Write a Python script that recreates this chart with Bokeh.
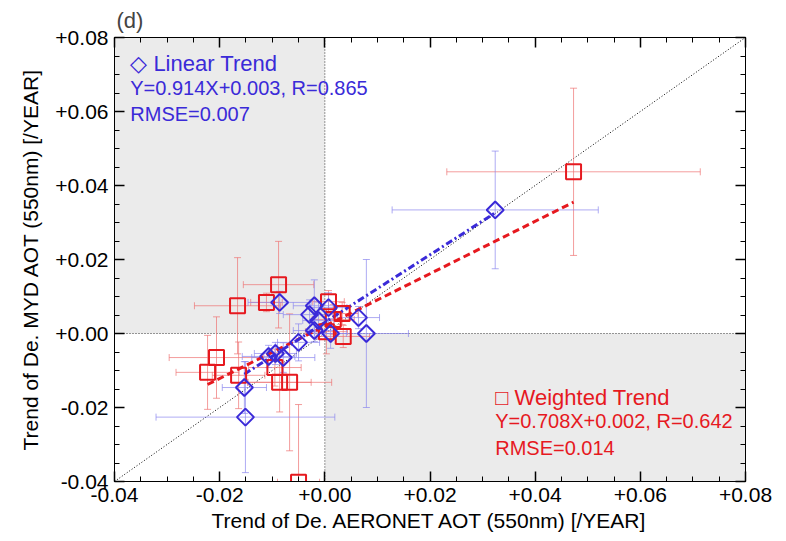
import numpy as np
from bokeh.plotting import figure
from bokeh.models import (ColumnDataSource, Whisker, TeeHead, BoxAnnotation, Span, Slope,
                          LinearAxis, SingleIntervalTicker, CustomJSTickFormatter, Label, Range1d)
from bokeh.embed import file_html
from bokeh.resources import INLINE

# ---- data ----
lin_x    = [0.0324, -0.0086, -0.0020, 0.0007, -0.0029, -0.0012, 0.0064, -0.0020,
            0.0079, 0.0011, -0.0050, -0.0079, -0.0094, -0.0107, -0.0153, -0.0151]
lin_y    = [0.0334, 0.0084, 0.0075, 0.0070, 0.0051, 0.0035, 0.0043, 0.0008,
            0.0000, 0.0000, -0.0024, -0.0065, -0.0054, -0.0062, -0.0146, -0.0226]
lin_xerr = [0.0196, 0.0060, 0.0040, 0.0035, 0.0050, 0.0030, 0.0040, 0.0040,
            0.0080, 0.0030, 0.0040, 0.0060, 0.0040, 0.0050, 0.0042, 0.0170]
lin_yerr = [0.0159, 0.0030, 0.0070, 0.0040, 0.0040, 0.0050, 0.0030, 0.0030,
            0.0200, 0.0040, 0.0050, 0.0040, 0.0030, 0.0030, 0.0070, 0.0150]

wt_x     = [0.0473, -0.0088, -0.0166, -0.0111, 0.0007, 0.0033, 0.0016, 0.0003,
            0.0035, -0.0206, -0.0223, -0.0164, -0.0095, -0.0086, -0.0067, -0.0050]
wt_y     = [0.0437, 0.0132, 0.0075, 0.0084, 0.0086, 0.0054, 0.0038, 0.0005,
            -0.0008, -0.0065, -0.0105, -0.0113, -0.0092, -0.0132, -0.0132, -0.0402]
wt_xerr  = [0.0241, 0.0067, 0.0082, 0.0030, 0.0030, 0.0030, 0.0040, 0.0040,
            0.0050, 0.0090, 0.0060, 0.0050, 0.0050, 0.0060, 0.0080, 0.0040]
wt_yerr  = [0.0226, 0.0117, 0.0130, 0.0025, 0.0030, 0.0030, 0.0040, 0.0060,
            0.0030, 0.0110, 0.0100, 0.0090, 0.0050, 0.0080, 0.0185, 0.0210]

lin_fit = (0.914, 0.003)   # slope, intercept
wt_fit = (0.708, 0.002)

axis_min, axis_max = -0.04, 0.08

BLUE = "#3a2ad8"
RED = "#e6191f"
BLUE_ERR = "#8c88ee"
RED_ERR = "#ee7474"
FONT = "Liberation Sans"

p = figure(width=786, height=541, output_backend="svg", toolbar_location=None,
           x_range=Range1d(axis_min, axis_max), y_range=Range1d(axis_min, axis_max),
           min_border_left=114, min_border_right=41, min_border_top=36, min_border_bottom=60,
           background_fill_color="white", border_fill_color="white")
p.grid.visible = False
p.outline_line_color = "black"
p.outline_line_width = 1

# shaded quadrants
p.add_layout(BoxAnnotation(right=0, bottom=0, fill_color="#ebebeb", fill_alpha=1,
                           line_alpha=0, level="underlay"))
p.add_layout(BoxAnnotation(left=0, top=0, fill_color="#ebebeb", fill_alpha=1,
                           line_alpha=0, level="underlay"))
# zero lines and 1:1 line
p.add_layout(Span(location=0, dimension="height", line_color="#333333", line_width=1,
                  line_dash="1 2", level="underlay"))
p.add_layout(Span(location=0, dimension="width", line_color="#333333", line_width=1,
                  line_dash="1 2", level="underlay"))
p.add_layout(Slope(gradient=1, y_intercept=0, line_color="black", line_width=1,
                   line_dash="1 2", level="underlay"))

def add_errors(xs, ys, xe, ye, color):
    src = ColumnDataSource(dict(
        x=xs, y=ys,
        xl=[a - b for a, b in zip(xs, xe)], xu=[a + b for a, b in zip(xs, xe)],
        yl=[a - b for a, b in zip(ys, ye)], yu=[a + b for a, b in zip(ys, ye)]))
    for dim, base, lo, hi in (("height", "x", "yl", "yu"), ("width", "y", "xl", "xu")):
        w = Whisker(source=src, base=base, lower=lo, upper=hi, dimension=dim,
                    line_color=color, line_width=1, line_alpha=0.7, level="underlay",
                    lower_head=TeeHead(size=7, line_color=color, line_alpha=0.7, line_width=1),
                    upper_head=TeeHead(size=7, line_color=color, line_alpha=0.7, line_width=1))
        p.add_layout(w)
    return src

wsrc = add_errors(wt_x, wt_y, wt_xerr, wt_yerr, RED_ERR)
lsrc = add_errors(lin_x, lin_y, lin_xerr, lin_yerr, BLUE_ERR)

# fit lines spanning each data set
wx = [min(wt_x), max(wt_x)]
p.line(wx, [wt_fit[0] * v + wt_fit[1] for v in wx], line_color=RED, line_width=3,
       line_dash="7 4")
lx = [min(lin_x), max(lin_x)]
p.line(lx, [lin_fit[0] * v + lin_fit[1] for v in lx], line_color=BLUE, line_width=3,
       line_dash="7 3 2 3")

# markers
p.scatter("x", "y", source=wsrc, marker="square", size=15, fill_alpha=0,
          line_color=RED, line_width=2)
p.scatter("x", "y", source=lsrc, marker="square", size=12, angle=np.pi / 4,
          fill_alpha=0, line_color=BLUE, line_width=2)

# axes
fmt = CustomJSTickFormatter(code="""
const v = Math.round(tick * 100) / 100;
return (v >= 0 ? '+' : '-') + Math.abs(v).toFixed(2);
""")
blank = CustomJSTickFormatter(code="return '';")

p.add_layout(LinearAxis(), "above")
p.add_layout(LinearAxis(), "right")

for ax in p.xaxis + p.yaxis:
    ax.ticker = SingleIntervalTicker(interval=0.02, num_minor_ticks=4)
    ax.major_tick_in = 10
    ax.major_tick_out = 0
    ax.minor_tick_in = 5
    ax.minor_tick_out = 0
    ax.axis_line_color = "black"
    ax.major_tick_line_color = "black"
    ax.minor_tick_line_color = "black"
    ax.major_tick_line_width = 1.5
    ax.minor_tick_line_width = 1
    ax.major_label_text_font = FONT
    ax.major_label_text_font_size = "21px"
    ax.major_label_text_color = "black"
    ax.major_label_standoff = 6

for ax in p.below + p.left:
    if isinstance(ax, LinearAxis):
        ax.formatter = fmt
for ax in p.above + p.right:
    if isinstance(ax, LinearAxis):
        ax.formatter = blank
        ax.major_label_standoff = 0

p.below[0].axis_label = "Trend of De. AERONET AOT (550nm) [/YEAR]"
p.left[0].axis_label = "Trend of De. MYD AOT (550nm) [/YEAR]"
for ax in (p.below[0], p.left[0]):
    ax.axis_label_text_font = FONT
    ax.axis_label_text_font_size = "21px"
    ax.axis_label_text_font_style = "normal"
    ax.axis_label_text_color = "black"
p.below[0].axis_label_standoff = 4
p.left[0].axis_label_standoff = 10

p.title.text = "(d)"
p.title.text_font = FONT
p.title.text_font_size = "22px"
p.title.text_font_style = "normal"
p.title.offset = 2

# legend texts
def txt(x, y, s, color, size="20px"):
    p.add_layout(Label(x=x, y=y, text=s, text_color=color, text_font=FONT,
                       text_font_size=size, text_baseline="middle", text_align="left"))

txt(-0.0370, 0.0730, "\u25c7 Linear Trend", BLUE, "22px")
txt(-0.0370, 0.0663, "Y=%.3fX+%.3f, R=0.865" % lin_fit, BLUE)
txt(-0.0370, 0.0593, "RMSE=0.007", BLUE)
txt(0.0324, -0.0173, "\u25a1 Weighted Trend", RED, "22px")
txt(0.0324, -0.0237, "Y=%.3fX+%.3f, R=0.642" % wt_fit, RED)
txt(0.0324, -0.0310, "RMSE=0.014", RED)

open("out.html", "w").write(file_html(p, INLINE))
